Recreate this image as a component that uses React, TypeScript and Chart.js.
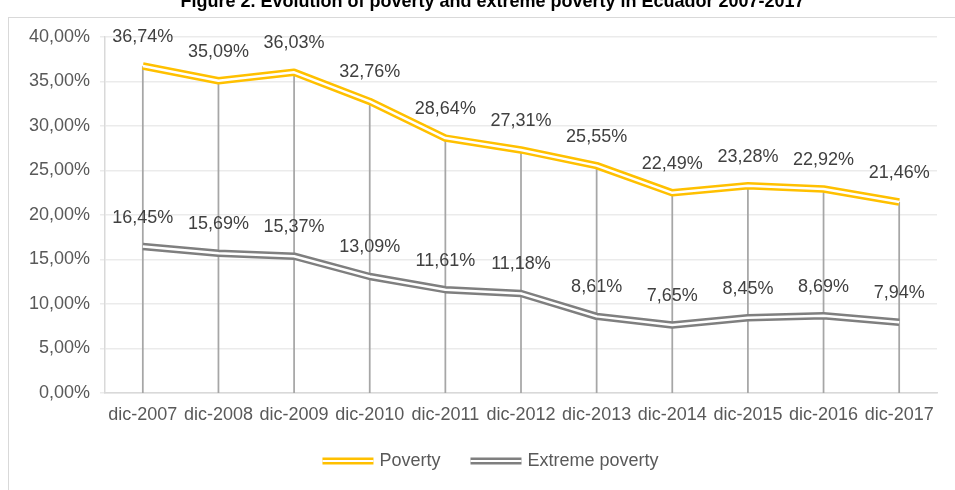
import React, { useEffect, useRef } from 'react';
import { Chart, registerables } from 'chart.js';

Chart.register(...registerables);

const categories = ['dic-2007', 'dic-2008', 'dic-2009', 'dic-2010', 'dic-2011', 'dic-2012', 'dic-2013', 'dic-2014', 'dic-2015', 'dic-2016', 'dic-2017'];
const poverty = [36.74, 35.09, 36.03, 32.76, 28.64, 27.31, 25.55, 22.49, 23.28, 22.92, 21.46];
const extremePoverty = [16.45, 15.69, 15.37, 13.09, 11.61, 11.18, 8.61, 7.65, 8.45, 8.69, 7.94];
const seriesNames = ['Poverty', 'Extreme poverty'];
const yMin = 0;
const yMax = 40;
const yStep = 5;
const title = 'Figure 2. Evolution of poverty and extreme poverty in Ecuador 2007-2017';

const YELLOW = '#FFC000';
const GREY = '#7F7F7F';
const FONT = "'Liberation Sans', Arial, sans-serif";

const fmt = (v: number) => v.toFixed(2).replace('.', ',') + '%';

export default function App() {
  const ref = useRef<HTMLCanvasElement | null>(null);

  useEffect(() => {
    if (!ref.current) return;
    Chart.defaults.font.family = FONT;

    const dropLines = {
      id: 'dropLines',
      beforeDatasetsDraw(chart: any) {
        const { ctx, scales } = chart;
        const xs = scales.x;
        const ys = scales.y;
        ctx.save();
        ctx.strokeStyle = '#A6A6A6';
        ctx.lineWidth = 1.75;
        poverty.forEach((v, i) => {
          const x = xs.getPixelForValue(i);
          ctx.beginPath();
          ctx.moveTo(x, ys.getPixelForValue(v));
          ctx.lineTo(x, ys.getPixelForValue(0));
          ctx.stroke();
        });
        ctx.restore();
      },
    };

    const valueLabels = {
      id: 'valueLabels',
      afterDatasetsDraw(chart: any) {
        const { ctx, scales } = chart;
        const xs = scales.x;
        const ys = scales.y;
        ctx.save();
        ctx.font = `18px ${FONT}`;
        ctx.fillStyle = '#404040';
        ctx.textAlign = 'center';
        ctx.textBaseline = 'middle';
        [poverty, extremePoverty].forEach((arr) => {
          arr.forEach((v, i) => {
            ctx.fillText(fmt(v), xs.getPixelForValue(i), ys.getPixelForValue(v) - 29);
          });
        });
        ctx.restore();
      },
    };

    const customLegend = {
      id: 'customLegend',
      afterDraw(chart: any) {
        const { ctx, width } = chart;
        ctx.save();
        ctx.font = `18px ${FONT}`;
        const markerW = 51;
        const textGap = 6;
        const itemGap = 30;
        const widths = seriesNames.map((n) => ctx.measureText(n).width);
        const total = widths.reduce((a, w) => a + markerW + textGap + w, 0) + itemGap * (seriesNames.length - 1);
        let x = width / 2 - total / 2 - 2;
        const cy = 461;
        const colors = [YELLOW, GREY];
        seriesNames.forEach((n, i) => {
          ctx.fillStyle = colors[i];
          ctx.fillRect(x, cy - 3.5, markerW, 7);
          ctx.fillStyle = '#ffffff';
          ctx.fillRect(x, cy - 1, markerW, 2);
          ctx.fillStyle = '#595959';
          ctx.textAlign = 'left';
          ctx.textBaseline = 'middle';
          ctx.fillText(n, x + markerW + textGap, cy);
          x += markerW + textGap + widths[i] + itemGap;
        });
        ctx.restore();
      },
    };

    const chart = new Chart(ref.current, {
      type: 'line',
      data: {
        labels: categories,
        datasets: [
          { label: seriesNames[0], data: poverty, borderColor: YELLOW, borderWidth: 7.5, pointRadius: 0, tension: 0, order: 2, borderJoinStyle: 'round' },
          { label: seriesNames[1], data: extremePoverty, borderColor: GREY, borderWidth: 7.5, pointRadius: 0, tension: 0, order: 2, borderJoinStyle: 'round' },
          { label: 'inner1', data: poverty, borderColor: '#ffffff', borderWidth: 2.5, pointRadius: 0, tension: 0, order: 1, borderJoinStyle: 'round' },
          { label: 'inner2', data: extremePoverty, borderColor: '#ffffff', borderWidth: 2.5, pointRadius: 0, tension: 0, order: 1, borderJoinStyle: 'round' },
        ],
      },
      options: {
        responsive: false,
        animation: false,
        layout: { padding: { left: 0, right: 48, top: 37, bottom: 57 } },
        plugins: {
          tooltip: { enabled: false },
          title: { display: false },
          legend: { display: false },
        },
        scales: {
          x: {
            offset: true,
            grid: { display: false, offset: true },
            border: { display: true, color: '#D9D9D9', width: 1.5 },
            ticks: { color: '#595959', font: { size: 18, family: FONT }, padding: 3, maxRotation: 0, autoSkip: false },
            afterFit: (s: any) => { s.height = 40; },
          },
          y: {
            min: yMin,
            max: yMax,
            grid: { color: '#EBEBEB', lineWidth: 1.5, drawTicks: true, tickLength: 5, tickColor: '#EBEBEB' },
            border: { display: true, color: '#D9D9D9', width: 1.5 },
            ticks: { stepSize: yStep, color: '#595959', font: { size: 18, family: FONT }, padding: 10, callback: (v: any) => fmt(Number(v)) },
            afterFit: (s: any) => { s.width = 105; },
          },
        },
      },
      plugins: [dropLines, valueLabels, customLegend],
    });
    return () => chart.destroy();
  }, []);

  return (
    <div style={{ position: 'fixed', left: 0, top: 0, width: 955, height: 490, overflow: 'hidden', background: '#fff' }}>
      <div style={{ position: 'absolute', left: 8, top: 17, width: 1000, height: 600, border: '1.5px solid #D9D9D9', boxSizing: 'border-box' }} />
      <canvas ref={ref} width={985} height={490} style={{ position: 'absolute', left: 0, top: 0, width: 985, height: 490 }} />
      <div style={{ position: 'absolute', left: 0, top: -8, width: 985, textAlign: 'center', fontFamily: FONT, fontWeight: 'bold', fontSize: 18, lineHeight: '18px', color: '#000', whiteSpace: 'nowrap' }}>{title}</div>
    </div>
  );
}
